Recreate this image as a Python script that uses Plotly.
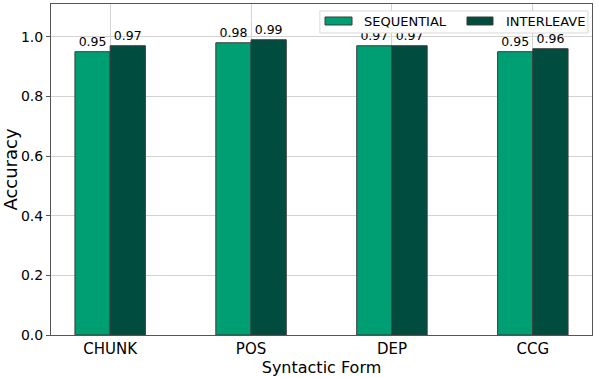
import plotly.graph_objects as go

categories = ["CHUNK", "POS", "DEP", "CCG"]
sequential = [0.95, 0.98, 0.97, 0.95]
interleave = [0.97, 0.99, 0.97, 0.96]
y_ticks = [0.0, 0.2, 0.4, 0.6, 0.8, 1.0]
series_names = ["SEQUENTIAL", "INTERLEAVE"]

SEQ_COLOUR = "#009E73"
INT_COLOUR = "#004D40"
EDGE = "#3a3a3a"
FONT = "DejaVu Sans"

fig = go.Figure()
for name, vals, colour in [(series_names[0], sequential, SEQ_COLOUR),
                           (series_names[1], interleave, INT_COLOUR)]:
    fig.add_trace(
        go.Bar(
            name=name,
            x=categories,
            y=vals,
            marker=dict(color=colour, line=dict(color=EDGE, width=1)),
            text=[f"{v:.2f}" for v in vals],
            textposition="outside",
            constraintext="none",
            textfont=dict(family=FONT, size=12.5, color="black"),
            cliponaxis=False,
            showlegend=False,
        ))

# matplotlib-style legend box (plotly's own legend is too tall and covers the labels)
fig.add_shape(type="rect", xref="paper", yref="paper",
              x0=0.497, x1=0.9926, y0=0.9124, y1=0.9789,
              line=dict(color="#d8d8d8", width=1), fillcolor="white",
              layer="above")
legend_items = [(series_names[0], SEQ_COLOUR, 0.5065, 0.5564, 0.5749),
                (series_names[1], INT_COLOUR, 0.7689, 0.8170, 0.8373)]
for name, colour, sx0, sx1, tx in legend_items:
    fig.add_shape(type="rect", xref="paper", yref="paper",
                  x0=sx0, x1=sx1, y0=0.9366, y1=0.9607,
                  line=dict(color=EDGE, width=1), fillcolor=colour,
                  layer="above")
    fig.add_annotation(text=name, xref="paper", yref="paper",
                       x=tx, y=0.9486, xanchor="left", yanchor="middle",
                       showarrow=False,
                       font=dict(family=FONT, size=13, color="black"))

fig.update_layout(
    width=598,
    height=377,
    margin=dict(l=51, r=6, t=4, b=42, autoexpand=False),
    plot_bgcolor="white",
    paper_bgcolor="white",
    barmode="group",
    bargap=0.5,
    bargroupgap=0,
    font=dict(family=FONT, color="black"),
    showlegend=False,
)
fig.update_xaxes(
    title=dict(text="Syntactic Form", font=dict(size=16), standoff=2),
    automargin=False,
    range=[-0.42, 3.42],
    showgrid=True,
    gridcolor="#d3d3d3",
    showline=True,
    linecolor="#555555",
    linewidth=1,
    mirror=True,
    ticks="",
    tickfont=dict(size=15),
)
fig.update_yaxes(
    title=dict(text="Accuracy", font=dict(size=18), standoff=6),
    automargin=False,
    range=[0, 1.11],
    tickvals=y_ticks,
    ticktext=[f"{t:.1f}" for t in y_ticks],
    showgrid=True,
    gridcolor="#d3d3d3",
    showline=True,
    linecolor="#555555",
    linewidth=1,
    mirror=True,
    ticks="outside",
    ticklen=4,
    tickcolor="#555555",
    tickfont=dict(size=14),
    zeroline=False,
)

# the page body has a default 8px margin; drop it so the figure sits at 0,0
fig.write_html("out.html", config={"displayModeBar": False},
               post_script="document.body.style.margin='0';")
